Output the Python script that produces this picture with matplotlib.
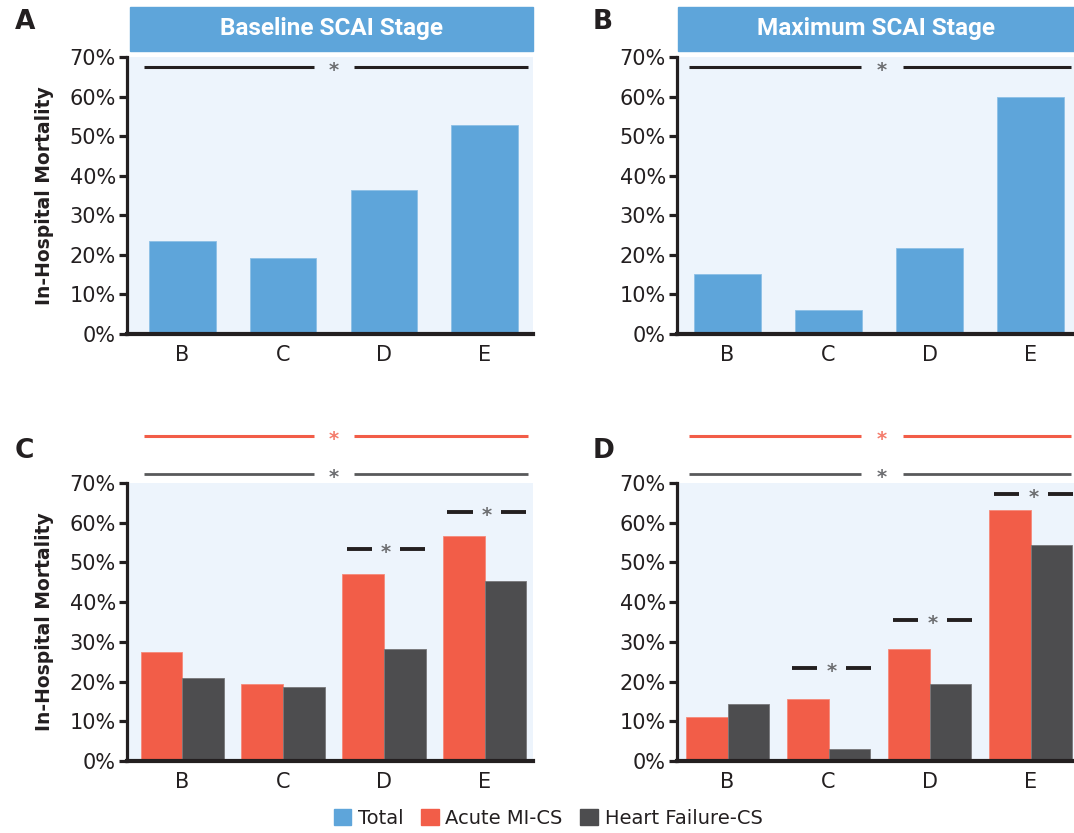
import matplotlib
matplotlib.use("Agg")
import matplotlib.pyplot as plt
from matplotlib.patches import Rectangle, Patch
import numpy as np

plt.rcParams['font.family'] = ['DejaVu Sans']

# ---- data ----
stages = ["B", "C", "D", "E"]
baseline_total = [23.4, 19.1, 36.5, 52.7]
maximum_total = [15.2, 6.1, 21.8, 60.0]
baseline_ami = [27.5, 19.5, 47.0, 56.7]
baseline_hf = [20.9, 18.7, 28.3, 45.2]
maximum_ami = [11.0, 15.6, 28.3, 63.2]
maximum_hf = [14.4, 3.1, 19.5, 54.3]
yticks = [0, 10, 20, 30, 40, 50, 60, 70]
ytick_labels = ["0%", "10%", "20%", "30%", "40%", "50%", "60%", "70%"]
headers = ["Baseline SCAI Stage", "Maximum SCAI Stage"]
panel_letters = ["A", "B", "C", "D"]
legend_labels = ["Total", "Acute MI-CS", "Heart Failure-CS"]
# significance bracket heights (% units)
overall_sig_top = 67.5
overall_sig_ami = 81.9
overall_sig_hf = 72.3
pair_sig_C = {"D": 53.5, "E": 62.7}
pair_sig_D = {"C": 23.4, "D": 35.4, "E": 67.3}

# ---- style ----
BLUE = "#5EA5DA"
RED = "#F25D48"
DARK = "#4D4D4F"
BG = "#EDF4FC"
INK = "#231F20"
STAR = "#6D6E71"
W, H = 1074, 833

fig = plt.figure(figsize=(W / 100, H / 100), dpi=100)


def fx(px):
    return px / W


def fy(py):
    return 1 - py / H


def make_ax(left, right, top, bottom):
    ax = fig.add_axes([fx(left), fy(bottom), fx(right) - fx(left), fy(top) - fy(bottom)])
    ax.set_facecolor(BG)
    for s in ["top", "right"]:
        ax.spines[s].set_visible(False)
    ax.spines["left"].set_linewidth(2.3)
    ax.spines["left"].set_color(INK)
    ax.spines["bottom"].set_linewidth(3.0)
    ax.spines["bottom"].set_color(INK)
    ax.set_ylim(0, 70)
    ax.set_yticks(yticks)
    ax.set_yticklabels(ytick_labels)
    ax.tick_params(axis="y", direction="out", length=6, width=2.3, color=INK,
                   labelsize=15, labelcolor=INK, pad=2)
    ax.tick_params(axis="x", length=0, labelsize=15, labelcolor=INK, pad=8)
    x = np.arange(len(stages))
    ax.set_xticks(x)
    ax.set_xticklabels(stages)
    return ax, x


def star(ax, x, y, color, size=14):
    ax.text(x, y - 0.9, "*", ha="center", va="center", fontsize=size, color=color,
            clip_on=False, fontweight="bold")


def long_sig(ax, y, x0, x1, g0, g1, color, starcolor, lw=2.2):
    ax.plot([x0, g0], [y, y], color=color, lw=lw, solid_capstyle="butt", clip_on=False)
    ax.plot([g1, x1], [y, y], color=color, lw=lw, solid_capstyle="butt", clip_on=False)
    star(ax, (g0 + g1) / 2, y, starcolor)


def pair_sig(ax, c, y):
    ax.plot([c - 0.39, c - 0.14], [y, y], color=INK, lw=2.8, solid_capstyle="butt", clip_on=False)
    ax.plot([c + 0.14, c + 0.39], [y, y], color=INK, lw=2.8, solid_capstyle="butt", clip_on=False)
    star(ax, c, y, STAR)


# ---- Panel A ----
axA, x = make_ax(127, 533, 57, 334)
axA.set_xlim(-0.55, 3.48)
axA.bar(x, baseline_total, width=0.66, color=BLUE, edgecolor="#8CC0E6", linewidth=0.6)
long_sig(axA, overall_sig_top, -0.38, 3.43, 1.31, 1.70, INK, STAR)

# ---- Panel B ----
axB, x = make_ax(677, 1074, 57, 334)
axB.set_xlim(-0.5, 3.43)
axB.bar(x, maximum_total, width=0.66, color=BLUE, edgecolor="#8CC0E6", linewidth=0.6)
long_sig(axB, overall_sig_top, -0.38, 3.40, 1.32, 1.74, INK, STAR)

# ---- Panel C ----
axC, x = make_ax(127, 533, 483, 761)
axC.set_xlim(-0.55, 3.48)
bw = 0.415
axC.bar(x - bw / 2, baseline_ami, width=bw, color=RED, edgecolor="#F58A7A", linewidth=0.6)
axC.bar(x + bw / 2, baseline_hf, width=bw, color=DARK, edgecolor="#777779", linewidth=0.6)
long_sig(axC, overall_sig_ami, -0.38, 3.43, 1.31, 1.70, RED, "#F47C6C")
long_sig(axC, overall_sig_hf, -0.38, 3.43, 1.31, 1.70, "#58595B", STAR, lw=2.0)
for k, yv in pair_sig_C.items():
    pair_sig(axC, stages.index(k) + 0.02, yv)

# ---- Panel D ----
axD, x = make_ax(677, 1074, 483, 761)
axD.set_xlim(-0.5, 3.43)
axD.bar(x - bw / 2, maximum_ami, width=bw, color=RED, edgecolor="#F58A7A", linewidth=0.6)
axD.bar(x + bw / 2, maximum_hf, width=bw, color=DARK, edgecolor="#777779", linewidth=0.6)
long_sig(axD, overall_sig_ami, -0.38, 3.40, 1.32, 1.74, RED, "#F47C6C")
long_sig(axD, overall_sig_hf, -0.38, 3.40, 1.32, 1.74, "#58595B", STAR, lw=2.0)
for k, yv in pair_sig_D.items():
    pair_sig(axD, stages.index(k) + 0.03, yv)

# y labels
for ax in (axA, axC):
    ax.set_ylabel("In-Hospital Mortality", fontsize=13.5, fontweight="bold", color=INK)
    ax.yaxis.set_label_coords(-0.18, 0.5)

# headers
for (l, r), txt in zip([(130, 533), (678, 1074)], headers):
    fig.patches.append(Rectangle((fx(l), fy(51)), fx(r) - fx(l), fy(7) - fy(51),
                                 transform=fig.transFigure, color=BLUE, zorder=0))
    fig.text(fx((l + r) / 2), fy(28), txt, ha="center", va="center", color="white",
             fontsize=17.5, fontweight="bold", family=["Roboto", "DejaVu Sans"])

# panel letters
for (px, py), letter in zip([(15, 22), (593, 22), (15, 451), (593, 451)], panel_letters):
    fig.text(fx(px), fy(py), letter, ha="left", va="center", fontsize=19,
             fontweight="bold", color=INK)

# legend
handles = [Patch(color=BLUE), Patch(color=RED), Patch(color=DARK)]
fig.legend(handles, legend_labels, loc="center", bbox_to_anchor=(fx(548), fy(818)),
           ncol=3, frameon=False, fontsize=14, handlelength=0.9, handleheight=0.9,
           handletextpad=0.35, columnspacing=0.9, labelcolor=INK)

fig.savefig("out.png", dpi=100)
